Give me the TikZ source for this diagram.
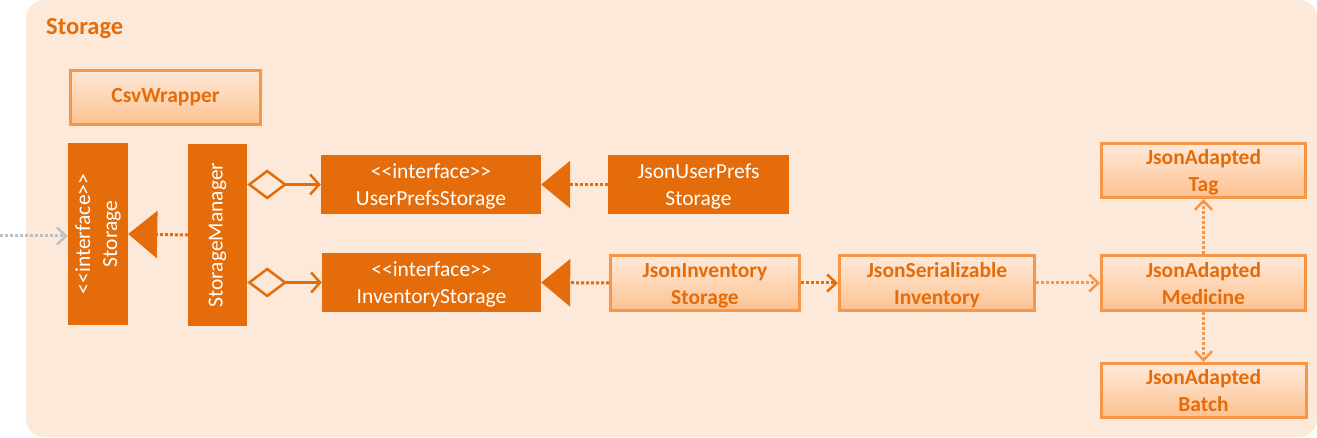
\documentclass[tikz,border=0pt]{standalone}
\usepackage{fontspec}
\setmainfont{Carlito}
\usetikzlibrary{arrows.meta}
\definecolor{bg}{HTML}{FDE9D9}
\definecolor{dk}{HTML}{E46C0A}
\definecolor{lt}{HTML}{F79646}
\definecolor{gtop}{HTML}{FEE9DA}
\definecolor{gbot}{HTML}{FDC290}
\definecolor{gry}{HTML}{BFBFBF}
\newcommand\stereo[1]{<\kern0pt<#1>\kern0pt>}
\newcommand\two[2]{\raisebox{-2.5pt}[\height][\depth]{\begin{tabular}{@{}c@{}}#1\\#2\end{tabular}}}
\tikzset{
  dkbox/.style={fill=dk, text=white, align=center, inner sep=0pt, font=\fontsize{21.5}{27}\selectfont},
  ltbox/.style={draw=lt, line width=3pt, top color=gtop, bottom color=gbot, text=dk, align=center, inner sep=0pt, font=\bfseries\fontsize{21.5}{27}\selectfont},
  dotline/.style={line width=3pt, dash pattern=on 3pt off 2pt},
  barb/.style={-{Straight Barb[length=9pt,width=17pt,line width=2.5pt]}},
  real/.style={-{Triangle[length=29pt,width=47pt]}},
  aggr/.style={line width=2.5pt, {Diamond[fill=bg,length=40pt,width=30pt,line width=2.5pt]}-{Straight Barb[length=9pt,width=20pt,line width=2.5pt]}},
}
\begin{document}
\begin{tikzpicture}[x=1pt,y=-1pt]
\useasboundingbox (0,0) rectangle (1317,438);
\fill[bg, rounded corners=18pt] (26,0) rectangle (1317,437);
\node[anchor=west, text=dk, font=\bfseries\fontsize{24.5}{28}\selectfont, inner sep=0pt] (title) at (46,29) {Storage};

\node[ltbox, minimum width=190pt, minimum height=54pt] (csv) at (165.5,97.5) {CsvWrapper};
\node[dkbox, rotate=90, minimum width=182pt, minimum height=60pt] (stor) at (98,234) {\stereo{interface}\\Storage};
\node[dkbox, rotate=90, minimum width=182pt, minimum height=59pt] (mgr) at (217.5,235) {StorageManager};
\node[dkbox, minimum width=220pt, minimum height=59pt] (ups) at (431,184.5) {\two{\stereo{interface}}{UserPrefsStorage}};
\node[dkbox, minimum width=181pt, minimum height=59pt] (jups) at (698.5,184.5) {\two{JsonUserPrefs}{Storage}};
\node[dkbox, minimum width=219pt, minimum height=59pt] (inv) at (431.5,282.5) {\two{\stereo{interface}}{InventoryStorage}};
\node[ltbox, minimum width=189pt, minimum height=55pt] (jinv) at (705,283) {\two{JsonInventory}{Storage}};
\node[ltbox, minimum width=195pt, minimum height=55pt] (jser) at (937,283) {\two{JsonSerializable}{Inventory}};
\node[ltbox, minimum width=204pt, minimum height=55pt] (med) at (1203.5,283) {\two{JsonAdapted}{Medicine}};
\node[ltbox, minimum width=204pt, minimum height=54pt] (tag) at (1203.5,170.5) {\two{JsonAdapted}{Tag}};
\node[ltbox, minimum width=205pt, minimum height=54pt] (bat) at (1203.5,390.5) {\two{JsonAdapted}{Batch}};

\coordinate (in) at (0,236);
\draw[gry, dotline, barb] (in) -- (in -| stor.north);
\draw[dk, dotline, real] (mgr.north) -- (stor.south);
\draw[dk, aggr] (mgr.south |- ups) -- (ups.west);
\draw[dk, aggr] (mgr.south |- inv) -- (inv.west);
\draw[dk, dotline, real] (jups.west) -- (ups.east);
\draw[dk, dotline, real] (jinv.west) -- (inv.east);
\draw[dk, dotline, barb] (jinv.east) -- (jser.west);
\draw[lt, dotline, barb] (jser.east) -- (med.west);
\draw[lt, dotline, barb] (med.north) -- (tag.south);
\draw[lt, dotline, barb] (med.south) -- (bat.north);
\end{tikzpicture}
\end{document}
